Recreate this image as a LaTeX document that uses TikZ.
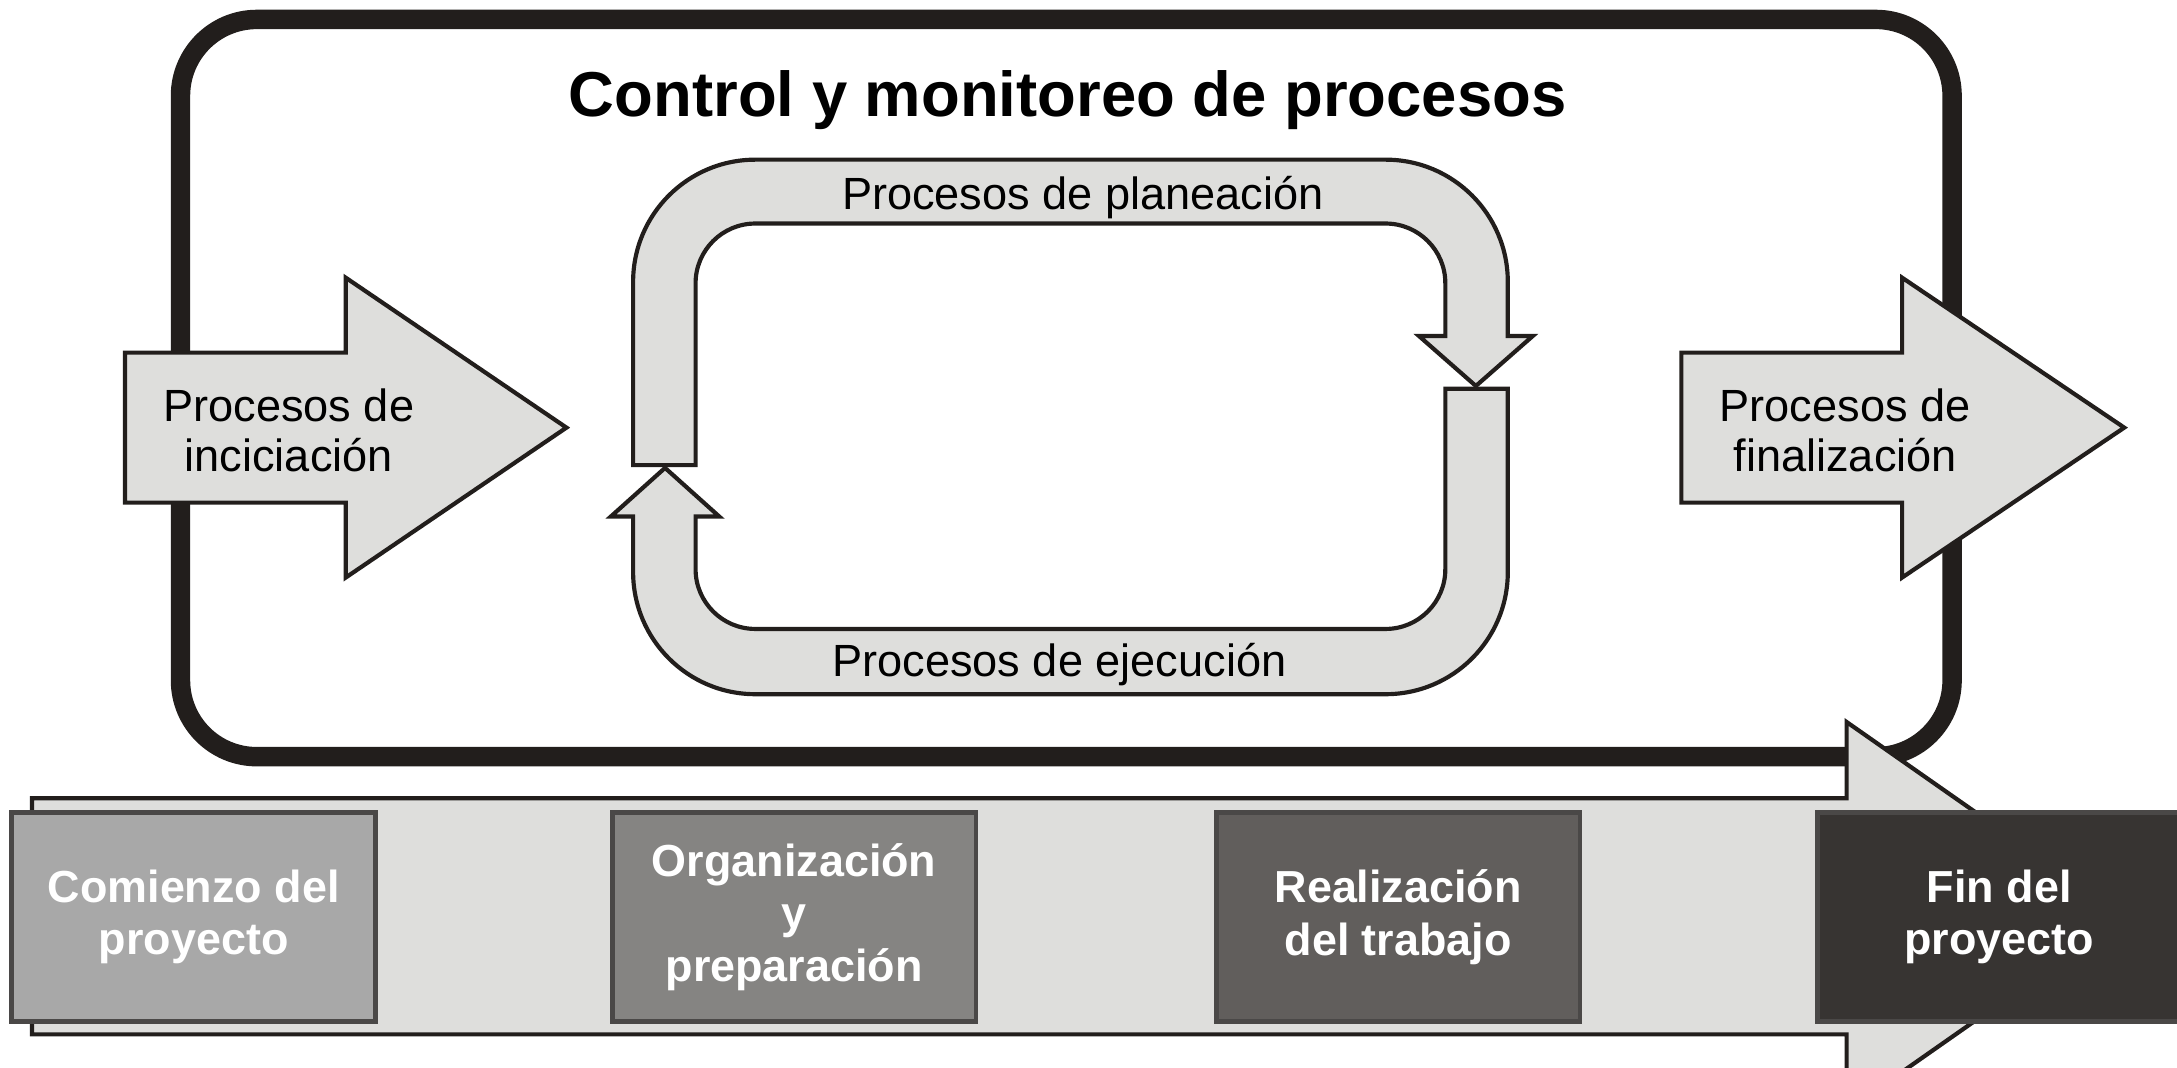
\documentclass[tikz,border=0pt]{standalone}
\usepackage{fontspec}
\setmainfont{Liberation Sans}
\definecolor{bandgray}{RGB}{222,222,220}
\definecolor{framecol}{RGB}{34,30,28}
\definecolor{boxline}{RGB}{74,72,71}
\definecolor{phaseA}{RGB}{168,168,168}
\definecolor{phaseB}{RGB}{133,132,130}
\definecolor{phaseC}{RGB}{97,94,92}
\definecolor{phaseD}{RGB}{55,52,50}
\begin{document}
\begin{tikzpicture}[x=0.2mm,y=-0.2mm]
\tikzstyle{every node}=[inner sep=0pt]
\tikzstyle{band}=[draw=framecol, line width=0.6mm, fill=bandgray, line join=miter]
\tikzstyle{phase}=[draw=boxline, line width=0.7mm, minimum width=52.4mm, minimum height=30mm, text=white, align=center, font=\bfseries\fontsize{18.4}{21.6}\selectfont]
\tikzstyle{lbl}=[font=\fontsize{18.5}{20.5}\selectfont]

\useasboundingbox (0,0) rectangle (1568,769);
\clip (0,0) rectangle (1568,769);

% marco
\draw[draw=framecol, line width=2.8mm, rounded corners=11mm] (130,14) rectangle (1406,545);
\node (nt) at (769,72) {\bfseries\fontsize{26}{30}\selectfont Control y monitoreo de procesos};

% flechas de entrada y salida
\draw[band] (90,254) -- (249,254) -- (249,200) -- (408,308) -- (249,416) -- (249,362) -- (90,362) -- cycle;
\draw[band] (1211,254) -- (1370,254) -- (1370,200) -- (1530,308) -- (1370,416) -- (1370,362) -- (1211,362) -- cycle;
\node[lbl, align=center] (ni) at (208,310) {Procesos de\\inciciaci\'on};
\node[lbl, align=center] (nf) at (1329,310) {Procesos de\\finalizaci\'on};

% ciclo
\draw[band] (456,335) -- (456,203) .. controls (456,154.4) and (495.4,115) .. (544,115)
  -- (998,115) .. controls (1046.6,115) and (1086,154.4) .. (1086,203)
  -- (1086,242) -- (1104,242) -- (1063,278) -- (1022,242) -- (1041,242)
  -- (1041,204) .. controls (1041,180.3) and (1021.7,161) .. (998,161)
  -- (544,161) .. controls (520.3,161) and (501,180.3) .. (501,204) -- (501,335) -- cycle;
\draw[band] (1086,280) -- (1086,412) .. controls (1086,460.6) and (1046.6,500) .. (998,500)
  -- (544,500) .. controls (495.4,500) and (456,460.6) .. (456,412)
  -- (456,372) -- (440,372) -- (479,337) -- (518,372) -- (501,372)
  -- (501,410) .. controls (501,433.7) and (520.3,453) .. (544,453)
  -- (998,453) .. controls (1021.7,453) and (1041,433.7) .. (1041,410) -- (1041,280) -- cycle;
\node[lbl] (np) at (780,142) {Procesos de planeaci\'on};
\node[lbl] (ne) at (763,479) {Procesos de ejecuci\'on};

% linea de tiempo
\draw[band] (23,575) -- (1330,575) -- (1330,520) -- (1530,660) -- (1330,800) -- (1330,745) -- (23,745) -- cycle;
\node[phase, fill=phaseA] (nc) at (139.5,660.5) {Comienzo del\\proyecto};
\node[phase, fill=phaseB] (no) at (572,660.5) {Organizaci\'on\\y\\preparaci\'on};
\node[phase, fill=phaseC] (nr) at (1007,660.5) {Realizaci\'on\\del trabajo};
\node[phase, fill=phaseD] (nfin) at (1440,660.5) {Fin del\\proyecto};
\end{tikzpicture}
\end{document}
